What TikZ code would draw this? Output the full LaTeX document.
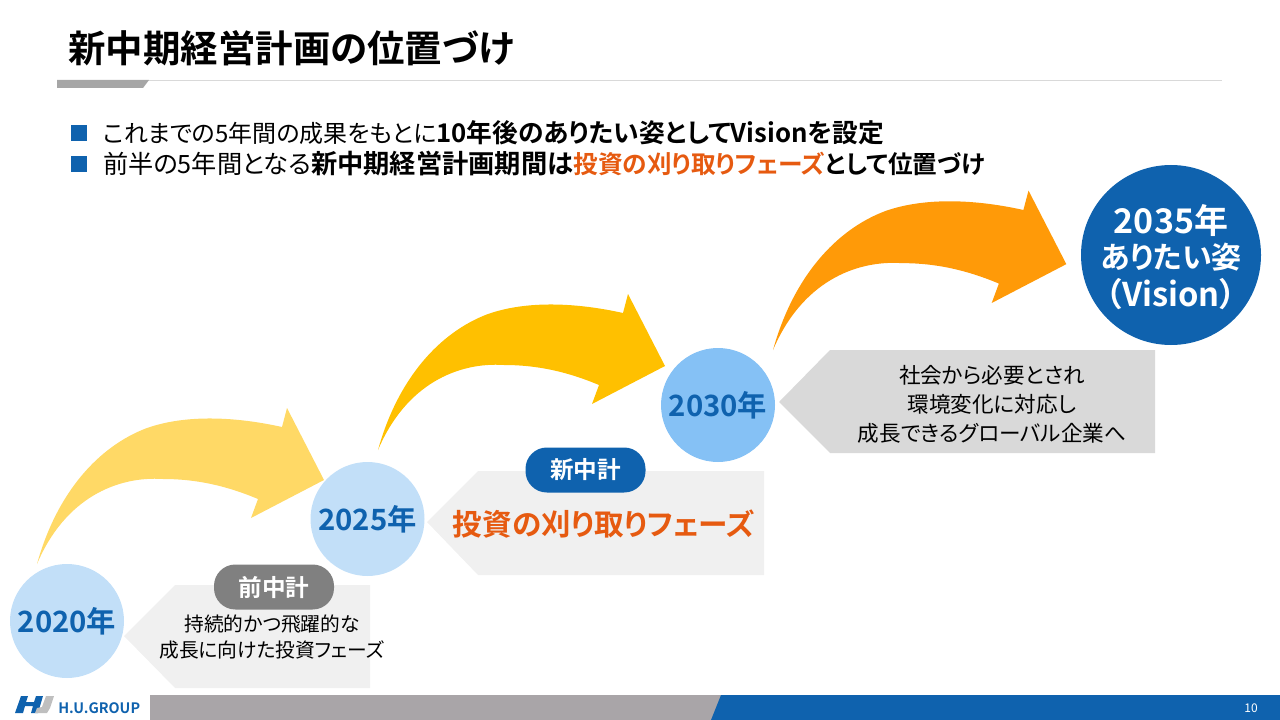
\documentclass[tikz,border=0pt]{standalone}
\usepackage{fontspec}
\setmainfont[RawFeature=+palt,BoldFont={Noto Sans CJK JP Bold}]{Noto Sans CJK JP}
\definecolor{hublue}{HTML}{0F62AE}
\definecolor{huorange}{HTML}{E65A10}
\definecolor{hugrey}{HTML}{A9A5A8}
\definecolor{yearpale}{HTML}{C2DFF8}
\definecolor{yearmid}{HTML}{85C1F5}
\newcommand{\sizeat}[1]{\fontsize{#1}{#1}\selectfont}
\tikzset{
  yearnode/.style={circle,minimum size=85.5pt,inner sep=0pt,text=hublue,font=\sizeat{22}\bfseries},
  pillnode/.style={rounded corners=16pt,minimum width=90pt,minimum height=33.75pt,inner sep=0pt,text=white,font=\sizeat{17.7}\bfseries},
  bulletline/.style={anchor=west,inner sep=0pt,font=\sizeat{18.9}}
}
\begin{document}
\begin{tikzpicture}[x=.75pt,y=-.75pt]
\useasboundingbox (0,0) rectangle (1280,720);
% title and rule
\node[anchor=west,inner sep=0pt,font=\sizeat{28.1}\bfseries] (title) at (68,48){新中期経営計画の位置づけ};
\fill[black!15] (57,80) rectangle (1222,81);
\fill[black!35] (57,80) -- (149,80) -- (143,88) -- (57,88) -- cycle;
% bullets
\foreach \y in {133,164}{\fill[hublue] (71,\y-8) rectangle (87,\y+8);}
\node[bulletline] (lineone) at (103,133){{\sizeat{18}これまでの5年間の成果をもとに}\textbf{\sizeat{19.3}10年後のありたい姿としてVisionを設定}};
\node[bulletline] (linetwo) at (103,164){前半の5年間となる\textbf{{\sizeat{19.7}新中期経営計画期間は}{\sizeat{18.5}\textcolor{huorange}{投資の刈り取りフェーズ}として位置づけ}}};
% curved arrows
\foreach \sx/\sy/\sc/\col in {0/0/1/FFD966,341/-114/1/FFC000,736/-214/1.022/FF9A08}{
  \definecolor{arrowcol}{HTML}{\col}
  \fill[arrowcol,shift={(37+\sx,564+\sy)},scale=\sc] (0,0) .. controls (20,-72) and (62,-118) .. (110,-136) .. controls (150,-150) and (200,-147) .. (245,-137) -- (250,-156) -- (287,-84) -- (214,-46) -- (221,-65) .. controls (190,-78) and (160,-85) .. (126,-85) .. controls (80,-88) and (28,-66) .. (0,0) -- cycle;
}
% chevrons
\fill[black!6] (124,636) -- (175,585) -- (370,585) -- (370,688) -- (175,688) -- cycle;
\fill[black!6] (427,522) -- (478,471) -- (764,471) -- (764,575) -- (478,575) -- cycle;
\fill[black!15] (779,402) -- (830,350) -- (1155,350) -- (1155,453) -- (830,453) -- cycle;
% years
\node[yearnode,fill=yearpale] (y2020) at (67,621){2020年};
\node[yearnode,fill=yearpale] (y2025) at (367.5,519){2025年};
\node[yearnode,fill=yearmid] (y2030) at (718,405){2030年};
\node[circle,fill=hublue,minimum size=135pt,inner sep=0pt] (y2035) at (1171,255){};
\node[align=center,inner sep=0pt,text=white,font=\bfseries] (visiontext) at (1171,257){\sizeat{25.5}2035年\\[4pt]\sizeat{22.5}ありたい姿\\[4pt]\sizeat{24.5}（Vision）};
% labels
\node[pillnode,fill=black!50] (pillprev) at (274,587){前中計};
\node[pillnode,fill=hublue] (pillnew) at (585.5,470){新中計};
\node[align=center,font=\fontsize{14.8}{19.5}\selectfont] (prevtext) at (272,637){持続的かつ飛躍的な\\成長に向けた投資フェーズ};
\node[text=huorange,font=\sizeat{22.2}\bfseries] (newtext) at (604,524){投資の刈り取りフェーズ};
\node[align=center,font=\fontsize{16.2}{21.5}\selectfont] (futuretext) at (992,404.5){社会から必要とされ\\環境変化に対応し\\成長できるグローバル企業へ};
% footer
\fill[hugrey] (150,695) rectangle (722,720);
\fill[hublue] (721,695) -- (1280,695) -- (1280,720) -- (711,720) -- cycle;
\node[text=white,font=\sizeat{9}] (pagenum) at (1251,708){10};
\node[anchor=west,inner sep=0pt,text=hublue,font=\sizeat{10.8}\bfseries] (logotext) at (58,708){H.U.GROUP};
\fill[hublue] (21,696) -- (28,696) -- (26,702) -- (34,702) -- (36,696) -- (43,696) -- (38,713) -- (31,713) -- (33,706) -- (25,706) -- (23,713) -- (15,713) -- cycle;
\fill[black!25] (46,696) -- (54,696) -- (50,708) -- (47,713) -- (35,713) -- (37,708) -- (42,707) -- cycle;
\end{tikzpicture}
\end{document}
